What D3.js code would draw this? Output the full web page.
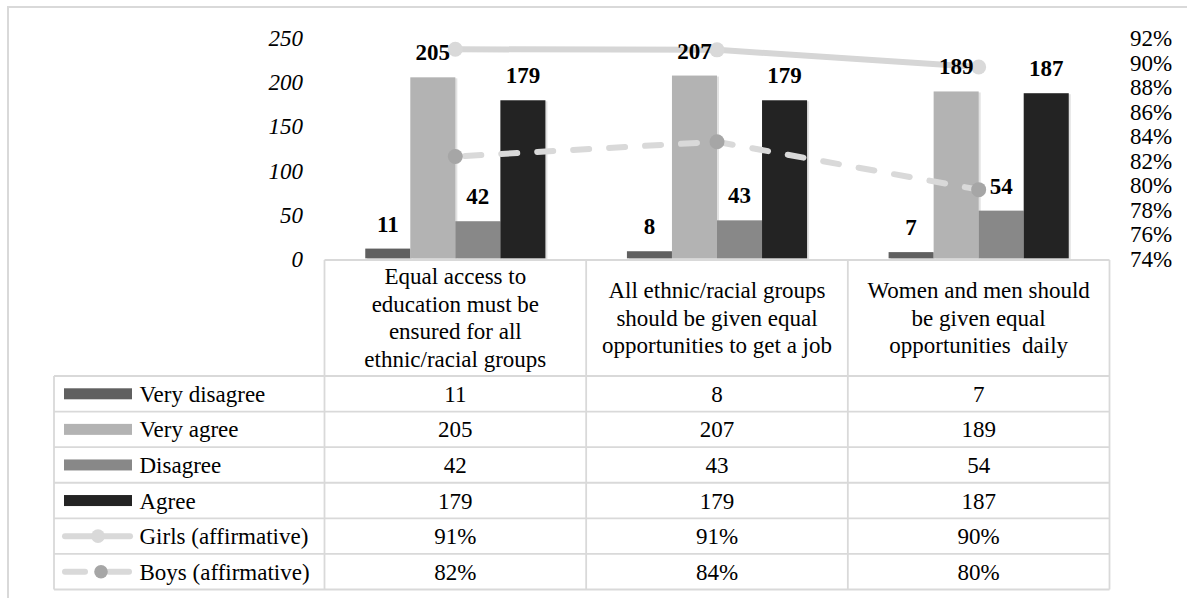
<!DOCTYPE html>
<html>
<head>
<meta charset="utf-8">
<script src="https://cdn.jsdelivr.net/npm/d3@7"></script>
<style>
  body { margin: 0; background: #fff; }
  svg { display: block; }
</style>
</head>
<body>
<svg id="chart" width="1187" height="598"></svg>
<script>
// ---------- data ----------
const categories = [
  "Equal access to\neducation must be\nensured for all\nethnic/racial groups",
  "All ethnic/racial groups\nshould be given equal\nopportunities to get a job",
  "Women and men should\nbe given equal\nopportunities  daily"
];
const barSeries = ["Very disagree", "Very agree", "Disagree", "Agree"];
const veryDisagree = [11, 8, 7];
const veryAgree = [205, 207, 189];
const disagree = [42, 43, 54];
const agree = [179, 179, 187];
const lineSeries = ["Girls (affirmative)", "Boys (affirmative)"];
const girls = [91.05, 91.0, 89.6];
const boys = [82.3, 83.5, 79.6];
const leftTicks = [0, 50, 100, 150, 200, 250];
const rightTicks = [74, 76, 78, 80, 82, 84, 86, 88, 90, 92];

const barValues = [veryDisagree, veryAgree, disagree, agree];
const barColors = ["#606060", "#b3b3b3", "#888888", "#232323"];

// ---------- setup ----------
const FAM = '"Liberation Serif", monospace';
const FS = 23;
const svg = d3.select("#chart");

function txt(parent, x, y, s, o = {}) {
  return parent.append("text")
    .attr("x", x).attr("y", y)
    .attr("text-anchor", o.anchor || "middle")
    .style("font-family", FAM)
    .style("font-size", (o.size || FS) + "px")
    .style("font-weight", o.weight || "normal")
    .style("font-style", o.style || "normal")
    .style("white-space", "pre")
    .attr("fill", "#000")
    .text(s);
}

// outer frame
svg.append("rect").attr("x", 8).attr("y", 7).attr("width", 1200).attr("height", 620)
  .attr("fill", "none").attr("stroke", "#d9d9d9").attr("stroke-width", 2);

// scales
const tableLeft = 54, tableRight = 1109.5;
const x = d3.scaleBand().domain(categories).range([324.5, tableRight]).padding(0);
const xs = d3.scaleBand().domain(barSeries).range([0, x.bandwidth()]).paddingInner(0).paddingOuter(0.905);
const yL = d3.scaleLinear().domain([0, 250]).range([258.3, 37.6]);
const yR = d3.scaleLinear().domain([74, 92]).range([258.3, 37.6]);

// ---------- axes ----------
const axL = svg.append("g").attr("transform", "translate(303,0)")
  .call(d3.axisLeft(yL).tickValues(leftTicks).tickSize(0).tickPadding(0));
axL.attr("font-family", null).attr("font-size", null);
axL.select(".domain").remove();
axL.selectAll("text")
  .attr("x", 0).attr("dy", null).attr("y", 8)
  .style("font-size", FS + "px").style("font-style", "italic")
  .style("font-family", FAM).attr("fill", "#000");

const axR = svg.append("g").attr("transform", "translate(1130,0)")
  .call(d3.axisRight(yR).tickValues(rightTicks).tickSize(0).tickPadding(0).tickFormat(d => d + "%"));
axR.attr("font-family", null).attr("font-size", null);
axR.select(".domain").remove();
axR.selectAll("text")
  .attr("x", 0).attr("dy", null).attr("y", 8)
  .style("font-size", FS + "px")
  .style("font-family", FAM).attr("fill", "#000");

// ---------- bars ----------
const barsG = svg.append("g");
barSeries.forEach((s, si) => {
  // light solid shadow (no opacity/filter)
  barsG.append("g").selectAll("rect").data(categories).join("rect")
    .attr("x", c => x(c) + xs(s) + 2)
    .attr("y", (c, i) => yL(barValues[si][i]) + 1)
    .attr("width", xs.bandwidth())
    .attr("height", (c, i) => yL(0) - yL(barValues[si][i]))
    .attr("fill", "#e2e2e2");
});
barSeries.forEach((s, si) => {
  barsG.append("g").selectAll("rect").data(categories).join("rect")
    .attr("x", c => x(c) + xs(s))
    .attr("y", (c, i) => yL(barValues[si][i]))
    .attr("width", xs.bandwidth())
    .attr("height", (c, i) => yL(0) - yL(barValues[si][i]))
    .attr("fill", barColors[si]);
});

// ---------- lines ----------
const cx = c => x(c) + x.bandwidth() / 2;
const lineG = d3.line().x((d, i) => cx(categories[i])).y(d => yR(d));
svg.append("path").datum(girls).attr("d", lineG)
  .attr("fill", "none").attr("stroke", "#d6d6d6").attr("stroke-width", 6)
  .attr("stroke-linecap", "round");
svg.append("g").selectAll("circle").data(girls).join("circle")
  .attr("cx", (d, i) => cx(categories[i])).attr("cy", d => yR(d)).attr("r", 7.5)
  .attr("fill", "#d9d9d9");

svg.append("path").datum(boys).attr("d", lineG)
  .attr("fill", "none").attr("stroke", "#d9d9d9").attr("stroke-width", 6)
  .attr("stroke-dasharray", "16,20").attr("stroke-dashoffset", -10)
  .attr("stroke-linecap", "round");
svg.append("g").selectAll("circle").data(boys).join("circle")
  .attr("cx", (d, i) => cx(categories[i])).attr("cy", d => yR(d)).attr("r", 7.5)
  .attr("fill", "#a6a6a6");

// ---------- bar labels ----------
const labG = svg.append("g");
barSeries.forEach((s, si) => {
  categories.forEach((c, i) => {
    const v = barValues[si][i];
    txt(labG, x(c) + xs(s) + xs.bandwidth() / 2, yL(v) - 17, String(v), { weight: "bold" });
  });
});

// ---------- data table ----------
const rows = barSeries.concat(lineSeries);
const rowY = d3.scaleBand().domain(rows).range([376, 589.5]);
const tbl = svg.append("g");
const gridColor = "#d9d9d9";
const hl = (x1, x2, y) => tbl.append("line").attr("x1", x1).attr("x2", x2).attr("y1", y).attr("y2", y)
  .attr("stroke", gridColor).attr("stroke-width", 1.8);
const vl = (xx, y1, y2) => tbl.append("line").attr("x1", xx).attr("x2", xx).attr("y1", y1).attr("y2", y2)
  .attr("stroke", gridColor).attr("stroke-width", 1.8);

hl(x.range()[0], tableRight, 260);
rows.forEach(r => hl(tableLeft, tableRight, rowY(r)));
hl(tableLeft, tableRight, rowY.range()[1]);
vl(tableLeft, 376, 589.5);
categories.forEach(c => vl(x(c), 260, 589.5));
vl(tableRight, 260, 589.5);

// header text
const headMid = 318, lh = 27.7;
categories.forEach(c => {
  const lines = c.split("\n");
  lines.forEach((ln, k) => {
    txt(tbl, cx(c), headMid - (lines.length - 1) / 2 * lh + k * lh + 7.5, ln);
  });
});

// row legend + values
const pct = v => d3.format(".0f")(v) + "%";
rows.forEach((r, ri) => {
  const yc = rowY(r) + rowY.bandwidth() / 2;
  if (ri < 4) {
    tbl.append("rect").attr("x", 64).attr("y", yc - 5.5).attr("width", 68).attr("height", 11)
      .attr("fill", barColors[ri]);
  } else if (ri === 4) {
    tbl.append("line").attr("x1", 65).attr("x2", 130).attr("y1", yc).attr("y2", yc)
      .attr("stroke", "#d9d9d9").attr("stroke-width", 6).attr("stroke-linecap", "round");
    tbl.append("circle").attr("cx", 98).attr("cy", yc).attr("r", 6.8).attr("fill", "#d9d9d9");
  } else {
    tbl.append("line").attr("x1", 65).attr("x2", 130).attr("y1", yc).attr("y2", yc)
      .attr("stroke", "#d9d9d9").attr("stroke-width", 6).attr("stroke-linecap", "round")
      .attr("stroke-dasharray", "20,24");
    tbl.append("circle").attr("cx", 101).attr("cy", yc).attr("r", 6.8).attr("fill", "#a6a6a6");
  }
  txt(tbl, 139.5, yc + 8, r, { anchor: "start" });
  categories.forEach((c, i) => {
    const v = ri < 4 ? String(barValues[ri][i]) : pct((ri === 4 ? girls : boys)[i]);
    txt(tbl, cx(c), yc + 8, v);
  });
});
</script>
</body>
</html>
